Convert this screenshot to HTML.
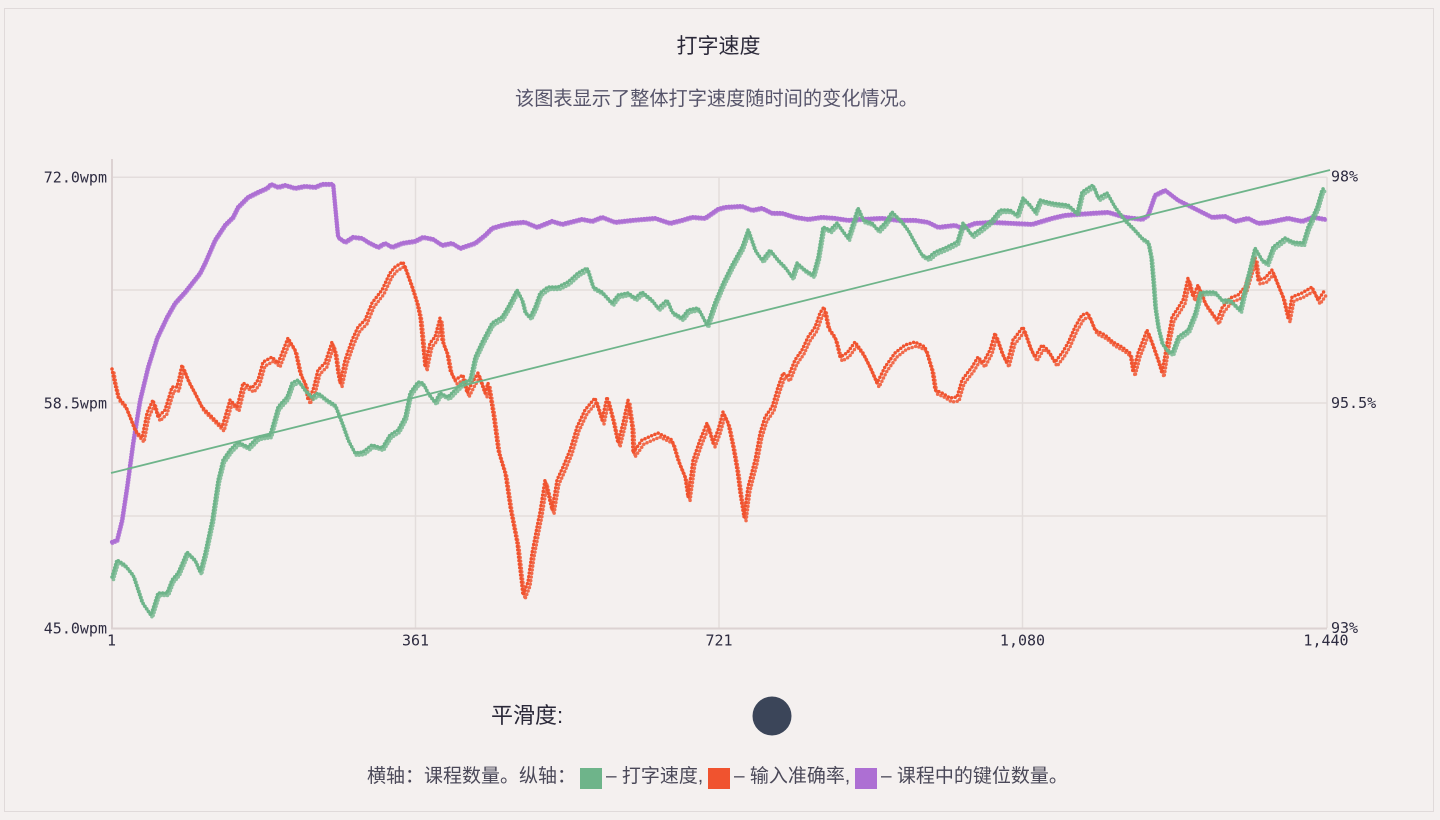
<!DOCTYPE html>
<html>
<head>
<meta charset="utf-8">
<style>
  html, body { margin:0; padding:0; }
  body { width:1440px; height:820px; background:#f4f0ef; position:relative; overflow:hidden;
         font-family:"Liberation Sans","Noto Sans CJK SC",sans-serif; }
  .frame { position:absolute; left:4px; top:8px; width:1428px; height:802px; border:1px solid #e0dada; }
  .t { position:absolute; white-space:nowrap; }
  .sq { position:absolute; width:22px; height:21px; }
</style>
</head>
<body>
<div class="frame"></div>

<div class="t" style="left:0;width:1437px;top:32px;font-size:21px;line-height:30px;text-align:center;color:#2a2838;">打字速度</div>
<div class="t" style="left:0;width:1433px;top:86px;font-size:19.2px;line-height:28px;text-align:center;color:#56546a;">该图表显示了整体打字速度随时间的变化情况。</div>

<svg width="1440" height="820" style="position:absolute;left:0;top:0;" xmlns="http://www.w3.org/2000/svg">
  <!-- grid -->
  <g stroke="#e3dddc" stroke-width="1.5" fill="none">
    <line x1="111" y1="177.3" x2="1327" y2="177.3"/>
    <line x1="111" y1="290" x2="1327" y2="290"/>
    <line x1="111" y1="403" x2="1327" y2="403"/>
    <line x1="111" y1="516" x2="1327" y2="516"/>
    <line x1="415.5" y1="177" x2="415.5" y2="628"/>
    <line x1="719" y1="177" x2="719" y2="628"/>
    <line x1="1022.5" y1="177" x2="1022.5" y2="628"/>
    <line x1="1327" y1="177" x2="1327" y2="628"/>
  </g>
  <!-- axes -->
  <line x1="112" y1="159" x2="112" y2="629" stroke="#dcd2d2" stroke-width="2"/>
  <line x1="111" y1="628.5" x2="1327" y2="628.5" stroke="#dcd2d2" stroke-width="2"/>

  <!-- tick labels -->
  <g font-family="'DejaVu Sans Mono','Liberation Mono',monospace" font-size="15" fill="#2d2b40">
    <text x="107" y="182.5" text-anchor="end">72.0wpm</text>
    <text x="107" y="408.5" text-anchor="end">58.5wpm</text>
    <text x="107" y="633.5" text-anchor="end">45.0wpm</text>
    <text x="1331" y="181.5">98%</text>
    <text x="1331" y="408">95.5%</text>
    <text x="1331" y="633">93%</text>
    <text x="111.5" y="645.5" text-anchor="middle">1</text>
    <text x="415.5" y="645.5" text-anchor="middle">361</text>
    <text x="719" y="645.5" text-anchor="middle">721</text>
    <text x="1022.5" y="645.5" text-anchor="middle">1,080</text>
    <text x="1326" y="645.5" text-anchor="middle">1,440</text>
  </g>

  <!-- purple series -->
  <g fill="none" stroke="#ad6fd3" stroke-linecap="round">
  <polyline stroke-width="4.2" stroke-dasharray="0 2.8" id="pur"
    points="112,542 117,540 122,520 127,487 133,443 140,400 148,367 157,338 167,317 175,303 185,292 200,273 205,263 215,240 225,225 233,217 238,207 248,197 258,192 267,188 271,184 278,187 285,185 295,188 305,186 315,187 322,184 333,184 334,195 337,227 338,237 345,242 353,237 362,238 368,242 378,247 385,243 392,247 402,243 415,241 423,237 433,239 442,245 452,243 460,248 475,243 485,235 492,228 502,225 512,223 523,222 525,222 537,227 552,221 562,224 582,219 592,221 602,217 615,222 632,220 655,218 670,223 682,220 692,217 705,218 718,209 725,207 742,206 752,210 762,208 772,213 782,213 795,217 808,219 822,217 835,218 848,220 862,219 882,218 898,220 915,220 928,222 938,227 955,225 962,228 975,223 992,222 1012,223 1032,224 1052,218 1065,215 1078,214 1092,213 1108,212 1125,217 1142,219 1148,215 1155,195 1165,190 1178,200 1192,207 1202,212 1212,217 1225,216 1235,221 1248,218 1258,223 1268,222 1278,220 1288,218 1302,221 1313,217 1325,219"/>
  <use href="#pur" transform="translate(0.5,1)" stroke-dasharray="0 6" opacity="0.8"/>
  </g>

  <!-- red series (main + jitter copy) -->
  <g fill="none" stroke="#f0532f" stroke-linecap="round">
  <polyline stroke-width="3.5" stroke-dasharray="0 3.6" id="red"
    points="112,369 114,380 118,397 125,405 130,417 135,430 142,438 147,413 153,400 158,417 165,410 172,387 177,387 182,365 188,380 195,393 202,407 212,417 222,427 225,417 230,400 237,407 243,383 252,388 258,380 263,362 272,357 278,363 288,338 295,350 300,373 305,383 308,400 313,390 318,370 325,363 332,342 335,352 338,373 340,383 345,360 352,340 358,327 365,320 372,303 382,290 390,273 395,267 403,262 407,273 412,287 417,303 420,317 423,347 425,367 430,343 435,337 440,318 442,340 447,353 450,370 455,380 463,375 467,393 472,383 478,373 485,393 488,383 493,413 498,450 505,473 510,507 517,543 520,570 523,595 528,582 532,553 537,527 540,512 545,480 552,510 557,480 563,467 570,450 577,427 585,410 595,398 602,420 607,397 613,420 618,443 623,423 628,400 632,427 633,453 642,440 658,433 672,440 678,460 685,477 688,497 693,460 700,440 707,423 713,443 718,430 723,412 728,423 733,447 737,470 740,493 744,517 748,487 755,460 760,433 765,417 772,407 778,387 783,373 788,377 795,360 802,350 808,337 815,327 820,313 824,307 828,327 835,337 840,357 847,353 855,342 863,353 870,367 877,383 885,367 895,353 905,345 915,342 925,347 932,370 935,390 942,393 950,398 957,397 962,380 972,367 978,357 983,363 990,350 995,333 1002,353 1007,363 1013,340 1023,327 1030,347 1035,357 1042,345 1048,350 1055,362 1062,353 1068,343 1075,327 1082,315 1088,313 1095,330 1105,335 1113,342 1122,347 1130,353 1133,372 1138,353 1147,330 1152,343 1158,360 1162,373 1167,343 1172,317 1178,308 1183,300 1188,278 1193,297 1198,285 1205,303 1210,310 1217,320 1222,308 1230,298 1238,295 1245,287 1250,270 1255,257 1258,280 1265,278 1272,270 1278,285 1283,297 1288,318 1292,297 1302,293 1312,287 1318,300 1325,290"/>
  <use href="#red" transform="translate(2,4)" stroke-dasharray="0 9" opacity="0.85"/>
  </g>

  <!-- green series -->
  <g fill="none" stroke="#6eb48a" stroke-linecap="round">
  <polyline stroke-width="3.6" stroke-dasharray="0 3.2" id="grn"
    points="112,577 117,560 125,565 133,575 142,602 151,615 158,593 167,593 172,580 178,573 187,552 195,560 200,572 205,553 212,520 218,480 223,460 230,450 238,442 248,447 258,437 270,435 278,407 287,397 292,383 298,380 305,390 312,397 318,393 327,400 335,405 342,423 348,440 355,453 363,452 372,445 382,448 390,435 398,430 405,417 410,393 418,382 423,383 428,393 435,402 440,393 448,397 455,390 462,383 470,380 475,357 482,342 492,323 502,317 508,307 517,290 522,300 525,312 530,317 535,307 540,293 548,287 558,287 568,282 578,273 587,268 593,287 602,292 612,303 618,295 628,293 635,298 642,292 652,300 658,308 667,300 672,312 682,318 688,310 698,308 707,325 715,302 723,283 732,265 742,247 748,230 755,250 762,260 770,250 778,260 785,267 792,277 797,263 805,270 813,275 818,257 823,227 830,230 837,223 842,230 848,238 853,223 858,208 863,220 872,223 878,230 885,223 892,212 902,222 908,230 915,243 922,255 928,258 935,252 945,248 957,242 963,223 972,235 982,228 992,220 1000,210 1010,210 1017,215 1023,198 1030,205 1035,212 1040,200 1052,203 1068,205 1077,213 1082,192 1093,185 1098,198 1107,193 1115,207 1125,220 1133,228 1142,238 1148,242 1151,257 1153,280 1155,307 1158,327 1162,343 1167,350 1172,353 1178,337 1188,330 1195,313 1200,293 1205,292 1215,292 1222,300 1230,300 1240,310 1247,280 1255,248 1262,260 1267,263 1273,247 1285,238 1293,242 1303,243 1308,227 1317,207 1322,190 1325,187"/>
  <use href="#grn" transform="translate(1.5,2.5)" stroke-dasharray="0 10" opacity="0.8"/>
  </g>

  <!-- trend line -->
  <line x1="111" y1="473" x2="1330" y2="170" stroke="#6eb48a" stroke-width="1.8"/>

  <!-- slider knob -->
  <circle cx="772" cy="716" r="19.5" fill="#3b4559"/>
</svg>

<div class="t" style="left:491px;top:701px;font-size:22px;line-height:30px;color:#2a2838;">平滑度:</div>

<div class="t" style="left:367px;top:764px;font-size:19px;line-height:26px;color:#4a4858;">横轴：课程数量。纵轴：</div>
<div class="sq" style="left:580px;top:768px;background:#6eb48a;"></div>
<div class="t" style="left:606px;top:764px;font-size:19px;line-height:26px;color:#4a4858;">– 打字速度,</div>
<div class="sq" style="left:708px;top:768px;background:#f0532f;"></div>
<div class="t" style="left:734px;top:764px;font-size:19px;line-height:26px;color:#4a4858;">– 输入准确率,</div>
<div class="sq" style="left:855px;top:768px;background:#ad6fd3;"></div>
<div class="t" style="left:881px;top:764px;font-size:19px;line-height:26px;color:#4a4858;">– 课程中的键位数量。</div>
</body>
</html>
